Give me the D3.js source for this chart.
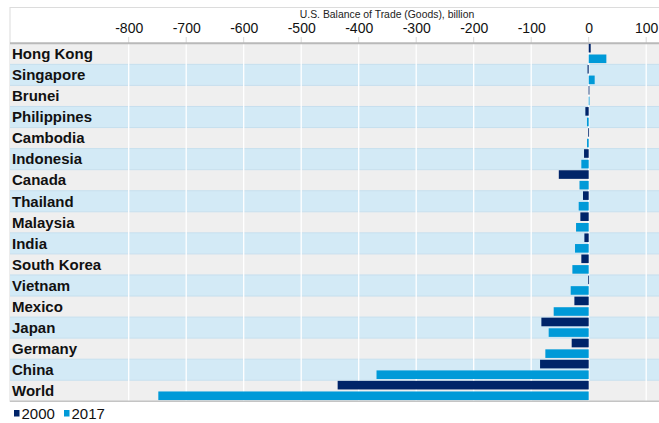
<!DOCTYPE html>
<html><head><meta charset="utf-8">
<script src="https://cdn.jsdelivr.net/npm/d3@7/dist/d3.min.js"></script>
<style>body{margin:0;background:#fff;font-family:"Liberation Sans",Arial,sans-serif}</style>
</head><body><svg id="c" width="659" height="423"></svg>
<script>
const countries = ["Hong Kong","Singapore","Brunei","Philippines","Cambodia","Indonesia","Canada","Thailand","Malaysia","India","South Korea","Vietnam","Mexico","Japan","Germany","China","World"];
const values2000 = [3.5,-2,-0.2,-5.8,-0.8,-8.1,-52,-9.9,-14.5,-7.5,-12.8,-0.8,-24.9,-82.3,-29.6,-84.6,-436.6];
const values2017 = [30.7,10.4,0.4,-3,-2.9,-12.8,-16,-17.4,-22,-23.8,-28.4,-31.3,-60.9,-69.6,-75.4,-369,-748.5];
const tickValues = [-800,-700,-600,-500,-400,-300,-200,-100,0,100];
const seriesNames = ["2000","2017"];
const seriesColors = ["#002469","#009ad8"];
const chartTitle = "U.S. Balance of Trade (Goods), billion";

(function(){
const svg = d3.select("#c");
const pL = 10, pR = 700, pT = 43.3, rowH = 21.06;
const pB = pT + rowH*countries.length;
const x = d3.scaleLinear().domain([-800,100]).range([128.7,646.2]);
const y = d3.scaleBand().domain(countries).range([pT,pB]);

// outer frame
svg.append("rect").attr("x",pL).attr("y",7.5).attr("width",700).attr("height",pB-7.5)
  .attr("fill","none").attr("stroke","#dcdcdc").attr("stroke-width",1);

// row bands
svg.append("g").selectAll("rect").data(countries).join("rect")
  .attr("x",pL).attr("y",d=>y(d)).attr("width",pR-pL).attr("height",y.bandwidth())
  .attr("fill",(d,i)=>i%2? "#d3eaf6":"#efefef");
svg.append("g").selectAll("line").data(countries.slice(1)).join("line")
  .attr("x1",pL).attr("x2",pR).attr("y1",d=>y(d)).attr("y2",d=>y(d))
  .attr("stroke","#c6dfee").attr("stroke-width",1);

// gridlines
svg.append("g").selectAll("line").data(tickValues).join("line")
  .attr("x1",d=>x(d)).attr("x2",d=>x(d)).attr("y1",37).attr("y2",pB)
  .attr("stroke","#ffffff").attr("stroke-width",1.3);
svg.append("g").selectAll("line").data(tickValues).join("line")
  .attr("x1",d=>x(d)).attr("x2",d=>x(d)).attr("y1",37).attr("y2",pT)
  .attr("stroke","#d8d8d8").attr("stroke-width",1);

// axis labels
const axis = d3.axisTop(x).tickValues(tickValues).tickSize(0).tickPadding(0).tickFormat(d=>d);
const ag = svg.append("g").attr("transform","translate(0,33)").call(axis);
ag.select(".domain").remove();
ag.selectAll("text").attr("font-size",14).attr("font-family","Liberation Sans, Arial, sans-serif").attr("fill","#111").attr("dy",0);

svg.append("text").attr("x",387).attr("y",17.5).attr("text-anchor","middle")
  .attr("font-size",10.4).attr("fill","#222").text(chartTitle);

// top and bottom borders
svg.append("line").attr("x1",pL).attr("x2",pR).attr("y1",pT).attr("y2",pT)
  .attr("stroke","#b9b9b9").attr("stroke-width",2);
svg.append("line").attr("x1",pL).attr("x2",pR).attr("y1",pB).attr("y2",pB)
  .attr("stroke","#c4c4c4").attr("stroke-width",1.5);

// bars
const barH = 8.6;
const g = svg.append("g");
[values2000, values2017].forEach((vals,s)=>{
  g.append("g").selectAll("rect").data(countries).join("rect")
    .attr("x",(d,i)=>x(Math.min(0,vals[i])))
    .attr("width",(d,i)=>Math.max(0.8,Math.abs(x(vals[i])-x(0))))
    .attr("y",d=>y(d)+(s===0?0.6:11.2))
    .attr("height",barH)
    .attr("fill",seriesColors[s]);
});

// country labels
svg.append("g").selectAll("text").data(countries).join("text")
  .attr("x",12).attr("y",d=>y(d)+y.bandwidth()/2+5.3)
  .attr("font-size",15).attr("font-weight","bold").attr("fill","#111").text(d=>d);

// legend
const lg = svg.append("g");
const lx = [14,64];
seriesNames.forEach((n,i)=>{
  lg.append("rect").attr("x",lx[i]).attr("y",410).attr("width",5.5).attr("height",6.5).attr("fill",seriesColors[i]);
  lg.append("text").attr("x",lx[i]+7.5).attr("y",419).attr("font-size",15).attr("fill","#111").text(n);
});
})();
</script></body></html>
